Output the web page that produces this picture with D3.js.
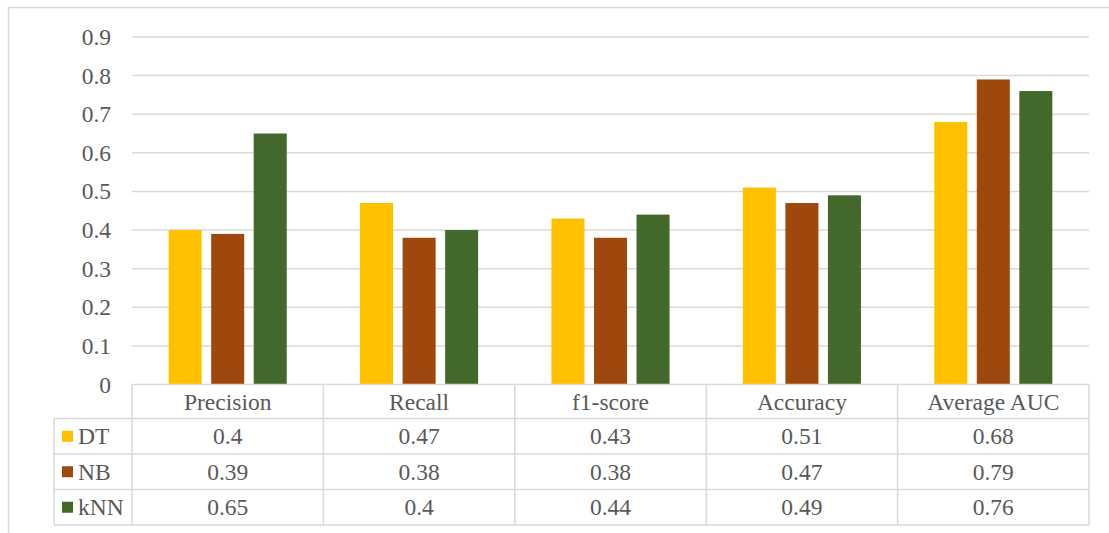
<!DOCTYPE html>
<html>
<head>
<meta charset="utf-8">
<script src="https://cdn.jsdelivr.net/npm/d3@7"></script>
<style>
  html, body { margin: 0; padding: 0; background: #fff; }
  svg { display: block; }
  text { font-family: "Liberation Serif", "Times New Roman", serif; fill: #595959; }
</style>
</head>
<body>
<svg id="chart" width="1109" height="533"></svg>
<script>
// Metric categories along the x axis
const categories = ["Precision", "Recall", "f1-score", "Accuracy", "Average AUC"];
// Classifier series
const seriesNames = ["DT", "NB", "kNN"];
const dtValues  = [0.40, 0.47, 0.43, 0.51, 0.68];
const nbValues  = [0.39, 0.38, 0.38, 0.47, 0.79];
const knnValues = [0.65, 0.40, 0.44, 0.49, 0.76];
const tickValues = [0, 0.1, 0.2, 0.3, 0.4, 0.5, 0.6, 0.7, 0.8, 0.9];
const seriesColors = ["#FFC000", "#9E480E", "#43682B"];

const seriesValues = [dtValues, nbValues, knnValues];
const rows = seriesNames.map((name, i) => ({ name, values: seriesValues[i], color: seriesColors[i] }));

const svg = d3.select("#chart");
const gridColor = "#D9D9D9";

// Plot geometry
const plot = { left: 132, right: 1089, top: 37, bottom: 384.5 };
const tableRows = { header: 34, row: 35.5 };
const legendLeft = 54;

const x0 = d3.scaleBand().domain(categories).range([plot.left, plot.right]).paddingInner(0).paddingOuter(0);
const x1 = d3.scaleBand().domain(seriesNames).range([0, x0.bandwidth()]).paddingInner(0.2235).paddingOuter(0.862);
const y = d3.scaleLinear().domain([0, 0.9]).range([plot.bottom, plot.top]);

// Outer chart frame
svg.append("path")
  .attr("d", `M8.5,${533} L8.5,7.5 L1109,7.5`)
  .attr("fill", "none").attr("stroke", gridColor).attr("stroke-width", 1.5);

// Horizontal gridlines and y-axis labels
const yAxis = d3.axisLeft(y).tickValues(tickValues).tickSize(0).tickPadding(0)
  .tickFormat(d => d === 0 ? "0" : d3.format(".1f")(d));
const yg = svg.append("g").attr("transform", `translate(111,0)`).call(yAxis);
yg.select(".domain").remove();
yg.selectAll("text")
  .attr("font-size", 23.5)
  .attr("font-family", "Liberation Serif, serif")
  .attr("fill", "#595959");

svg.append("g").selectAll("line")
  .data(tickValues.filter(d => d > 0))
  .join("line")
  .attr("x1", plot.left).attr("x2", plot.right)
  .attr("y1", d => y(d)).attr("y2", d => y(d))
  .attr("stroke", gridColor).attr("stroke-width", 1.5);

// Bars
const groups = svg.append("g").selectAll("g")
  .data(categories)
  .join("g")
  .attr("transform", c => `translate(${x0(c)},0)`);

groups.selectAll("rect")
  .data((c, ci) => rows.map(r => ({ name: r.name, value: r.values[ci], color: r.color })))
  .join("rect")
  .attr("x", d => x1(d.name))
  .attr("width", x1.bandwidth())
  .attr("y", d => y(d.value))
  .attr("height", d => y(0) - y(d.value))
  .attr("fill", d => d.color);

// Data table beneath the plot
const tTop = plot.bottom;
const headerBottom = tTop + tableRows.header;
const tBottom = headerBottom + tableRows.row * rows.length;
const table = svg.append("g").attr("stroke", gridColor).attr("stroke-width", 1.5).attr("fill", "none");

// horizontal rules
table.append("line").attr("x1", plot.left).attr("x2", plot.right).attr("y1", tTop).attr("y2", tTop);
rows.forEach((r, i) => {
  const yy = headerBottom + tableRows.row * i;
  table.append("line").attr("x1", legendLeft).attr("x2", plot.right).attr("y1", yy).attr("y2", yy);
});
table.append("line").attr("x1", legendLeft).attr("x2", plot.right).attr("y1", tBottom).attr("y2", tBottom);
// vertical rules
table.append("line").attr("x1", legendLeft).attr("x2", legendLeft).attr("y1", headerBottom).attr("y2", tBottom);
categories.forEach(c => {
  const xx = x0(c);
  table.append("line").attr("x1", xx).attr("x2", xx).attr("y1", tTop).attr("y2", tBottom);
});
table.append("line").attr("x1", plot.right).attr("x2", plot.right).attr("y1", tTop).attr("y2", tBottom);

// header labels
svg.append("g").selectAll("text")
  .data(categories)
  .join("text")
  .attr("x", c => x0(c) + x0.bandwidth() / 2)
  .attr("y", tTop + tableRows.header / 2)
  .attr("dy", "0.35em")
  .attr("text-anchor", "middle")
  .attr("font-size", 23.5)
  .text(c => c);

// series rows: legend key, name and values
const rowG = svg.append("g").selectAll("g")
  .data(rows)
  .join("g")
  .attr("transform", (r, i) => `translate(0,${headerBottom + tableRows.row * i + tableRows.row / 2})`);

rowG.append("rect")
  .attr("x", 62).attr("y", -5.5).attr("width", 11).attr("height", 11)
  .attr("fill", r => r.color);

rowG.append("text")
  .attr("x", 78).attr("dy", "0.35em")
  .attr("font-size", 23.5)
  .text(r => r.name);

rowG.selectAll("text.val")
  .data(r => r.values.map((v, i) => ({ v, c: categories[i] })))
  .join("text")
  .attr("class", "val")
  .attr("x", d => x0(d.c) + x0.bandwidth() / 2)
  .attr("dy", "0.35em")
  .attr("text-anchor", "middle")
  .attr("font-size", 23.5)
  .text(d => String(d.v));
</script>
</body>
</html>
